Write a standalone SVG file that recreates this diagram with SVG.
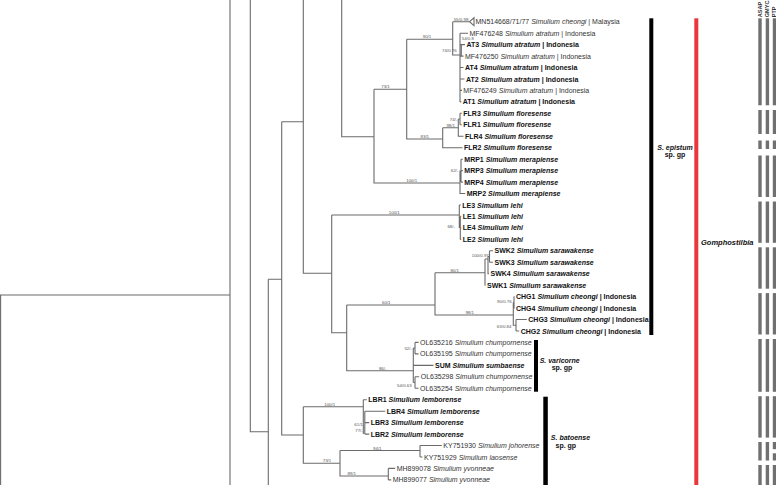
<svg xmlns="http://www.w3.org/2000/svg" width="776" height="485" viewBox="0 0 776 485">
<style>
.br{fill:none;stroke:#6b6b6b;stroke-width:1.1}
.t{font-family:"Liberation Sans",Arial,sans-serif;font-size:7px;fill:#333}
.b{font-weight:bold;fill:#111}
.i{font-style:italic}
.s{font-family:"Liberation Sans",Arial,sans-serif;font-size:4.4px;fill:#555}
.e{text-anchor:end}
.c{text-anchor:middle}
.g{font-family:"Liberation Sans",Arial,sans-serif;font-size:7px;font-weight:bold;fill:#111;text-anchor:middle}
.m{fill:#707070}
.h{font-family:"Liberation Sans",Arial,sans-serif;font-size:5.6px;font-weight:bold;fill:#333}
</style>
<rect width="776" height="485" fill="#fff"/>
<g id="connectors">
<path class="br" d="M230,0V485 M0,295H230 M0.6,295V485 M250.3,0V431.7H268.3 M268.3,279.3V485 M268.3,279.3H281.7 M281.7,121.7V435H303.3 M281.7,121.7H303.3 M303.3,0V273.3H331.7 M341.7,0V136.7H374 M374,89.3V183H460 M374,89.3H406.7 M406.7,39.3V139H442.7 M406.7,39.3H452.7 M452.7,21.7V55H460 M452.7,21.7H469.5 M469.5,21.7L474,17.8V25.6Z M460,33.2V101.9 M460,33.2H468 M460,44.6H465 M461.3,44.6V56.1 M460,56.1H463.5 M460,67.5H463.5 M460,79H464.5 M460,90.4H462 M460,101.9H461.3"/>
<path class="br" d="M442.7,127.7V147.7H462.5 M442.7,127.7H458.3 M458.3,119V136.3H463.5 M458.3,119H460 M460,113.3V124.8 M460,113.3H461.8 M460,124.8H461.8 M460,170.6V193.5H465.2 M461,159.2V182.1 M461,159.2H462.8 M461,170.6H462.8 M461,182.1H462.8"/>
<path class="br" d="M331.7,215V332.7H346.7 M331.7,215H459.3 M459.3,205V227.9 M459.3,205H460.8 M460.3,216.4V239.4 M460.3,216.4H461.2 M460.3,227.9H461.2 M460.3,239.4H461.2 M346.7,305V370.7H413.3 M346.7,305H435 M435,272.7V315H513.3 M435,272.7H485"/>
<path class="br" d="M485,259V285.2H485.5 M485,259H488 M488,256.5V273.7H489 M488,256.5H489.5 M489.5,250.8V262.3 M489.5,250.8H493 M489.5,262.3H493 M513.3,302.4V325.3H516 M513.3,302.4H514 M514,296.6V308.1 M514,296.6H514.5 M514,308.1H514.5 M516,319.5V331 M516,319.5H526.8 M516,331H519.2"/>
<path class="br" d="M413.3,348V382.5 M413.3,348H415 M415,342.4V353.9 M415,342.4H418.5 M415,353.9H418.5 M413.3,365.4H433.5 M413.3,382.5H415 M415,376.8V388.3 M415,376.8H419.2 M415,388.3H418.5"/>
<path class="br" d="M303.3,406.7V463.3H340 M303.3,406.7H363.3 M363.3,399.7V434.1 M364.8,411.2V434.1 M363.3,399.7H366.8 M364.8,411.2H385.2 M364.8,422.6H369.2 M364.8,434.1H369.2 M340,450.5V476H388.3 M340,450.5H420 M420,445.5V457 M420,445.5H441.8 M420,457H422.5 M388.3,468.4V479.9 M388.3,468.4H395.2 M388.3,479.9H391.2"/>
</g>
<g id="support">
<text class="s c" x="461" y="20.6">55/0.98</text>
<text class="s c" x="427" y="38">90/1</text>
<text class="s" x="461.7" y="39.8">54/0.8</text>
<text class="s e" x="456.7" y="52.3">74/0.76</text>
<text class="s c" x="385.5" y="88">73/1</text>
<text class="s e" x="457.3" y="120.8">74/-</text>
<text class="s c" x="450.7" y="126.6">98/1</text>
<text class="s c" x="424.8" y="137.9">83/1</text>
<text class="s e" x="458.3" y="172.2">62/-</text>
<text class="s c" x="411.7" y="181.9">100/1</text>
<text class="s c" x="394.3" y="213.9">100/1</text>
<text class="s e" x="455" y="228.2">68/-</text>
<text class="s e" x="488.8" y="256.5">100/0.97</text>
<text class="s c" x="454.7" y="271.6">80/1</text>
<text class="s c" x="386.3" y="303.9">60/1</text>
<text class="s c" x="469.7" y="313.9">98/1</text>
<text class="s e" x="511.7" y="303.2">90/0.76</text>
<text class="s e" x="511.5" y="328">63/0.84</text>
<text class="s e" x="412" y="349.8">52/-</text>
<text class="s c" x="382.7" y="369.6">86/-</text>
<text class="s e" x="411.7" y="386.5">54/0.63</text>
<text class="s c" x="329.7" y="405.6">100/1</text>
<text class="s e" x="362.8" y="425.5">61/1</text>
<text class="s e" x="362.8" y="432.2">77/-</text>
<text class="s c" x="377.3" y="449.5">94/1</text>
<text class="s c" x="327" y="462.3">73/1</text>
<text class="s c" x="351.7" y="475">89/1</text>
</g>
<g id="tip-MN514668"><text class="t" x="475.5" y="24.2">MN514668/71/77 <tspan class="i">Simulium cheongi</tspan> | Malaysia</text></g>
<g id="tip-MF476248"><text class="t" x="469.5" y="35.7">MF476248 <tspan class="i">Simulium atratum</tspan> | Indonesia</text></g>
<g id="tip-AT3"><text class="t b" x="466.5" y="47.1">AT3 <tspan class="i">Simulium atratum</tspan> | Indonesia</text></g>
<g id="tip-MF476250"><text class="t" x="465" y="58.6">MF476250 <tspan class="i">Simulium atratum</tspan> | Indonesia</text></g>
<g id="tip-AT4"><text class="t b" x="465" y="70">AT4 <tspan class="i">Simulium atratum</tspan> | Indonesia</text></g>
<g id="tip-AT2"><text class="t b" x="466" y="81.5">AT2 <tspan class="i">Simulium atratum</tspan> | Indonesia</text></g>
<g id="tip-MF476249"><text class="t" x="463.3" y="92.9">MF476249 <tspan class="i">Simulium atratum</tspan> | Indonesia</text></g>
<g id="tip-AT1"><text class="t b" x="462.7" y="104.4">AT1 <tspan class="i">Simulium atratum</tspan> | Indonesia</text></g>
<g id="tip-FLR3"><text class="t b" x="463.3" y="115.8">FLR3 <tspan class="i">Simulium floresense</tspan></text></g>
<g id="tip-FLR1"><text class="t b" x="463.3" y="127.3">FLR1 <tspan class="i">Simulium floresense</tspan></text></g>
<g id="tip-FLR4"><text class="t b" x="465" y="138.8">FLR4 <tspan class="i">Simulium floresense</tspan></text></g>
<g id="tip-FLR2"><text class="t b" x="464" y="150.2">FLR2 <tspan class="i">Simulium floresense</tspan></text></g>
<g id="tip-MRP1"><text class="t b" x="464.3" y="161.7">MRP1 <tspan class="i">Simulium merapiense</tspan></text></g>
<g id="tip-MRP3"><text class="t b" x="464.3" y="173.1">MRP3 <tspan class="i">Simulium merapiense</tspan></text></g>
<g id="tip-MRP4"><text class="t b" x="464.3" y="184.6">MRP4 <tspan class="i">Simulium merapiense</tspan></text></g>
<g id="tip-MRP2"><text class="t b" x="466.7" y="196">MRP2 <tspan class="i">Simulium merapiense</tspan></text></g>
<g id="tip-LE3"><text class="t b" x="462.3" y="207.5">LE3 <tspan class="i">Simulium lehi</tspan></text></g>
<g id="tip-LE1"><text class="t b" x="462.7" y="218.9">LE1 <tspan class="i">Simulium lehi</tspan></text></g>
<g id="tip-LE4"><text class="t b" x="462.7" y="230.4">LE4 <tspan class="i">Simulium lehi</tspan></text></g>
<g id="tip-LE2"><text class="t b" x="462.7" y="241.9">LE2 <tspan class="i">Simulium lehi</tspan></text></g>
<g id="tip-SWK2"><text class="t b" x="494.5" y="253.3">SWK2 <tspan class="i">Simulium sarawakense</tspan></text></g>
<g id="tip-SWK3"><text class="t b" x="494.5" y="264.8">SWK3 <tspan class="i">Simulium sarawakense</tspan></text></g>
<g id="tip-SWK4"><text class="t b" x="490.5" y="276.2">SWK4 <tspan class="i">Simulium sarawakense</tspan></text></g>
<g id="tip-SWK1"><text class="t b" x="487" y="287.7">SWK1 <tspan class="i">Simulium sarawakense</tspan></text></g>
<g id="tip-CHG1"><text class="t b" x="516" y="299.1">CHG1 <tspan class="i">Simulium cheongi</tspan> | Indonesia</text></g>
<g id="tip-CHG4"><text class="t b" x="516" y="310.6">CHG4 <tspan class="i">Simulium cheongi</tspan> | Indonesia</text></g>
<g id="tip-CHG3"><text class="t b" x="528.3" y="322">CHG3 <tspan class="i">Simulium cheongi</tspan> | Indonesia</text></g>
<g id="tip-CHG2"><text class="t b" x="520.7" y="333.5">CHG2 <tspan class="i">Simulium cheongi</tspan> | Indonesia</text></g>
<g id="tip-OL635216"><text class="t" x="420" y="344.9">OL635216 <tspan class="i">Simulium chumpornense</tspan></text></g>
<g id="tip-OL635195"><text class="t" x="420" y="356.4">OL635195 <tspan class="i">Simulium chumpornense</tspan></text></g>
<g id="tip-SUM"><text class="t b" x="435" y="367.9">SUM <tspan class="i">Simulium sumbaense</tspan></text></g>
<g id="tip-OL635298"><text class="t" x="420.7" y="379.3">OL635298 <tspan class="i">Simulium chumpornense</tspan></text></g>
<g id="tip-OL635254"><text class="t" x="420" y="390.8">OL635254 <tspan class="i">Simulium chumpornense</tspan></text></g>
<g id="tip-LBR1"><text class="t b" x="368.3" y="402.2">LBR1 <tspan class="i">Simulium lemborense</tspan></text></g>
<g id="tip-LBR4"><text class="t b" x="386.7" y="413.7">LBR4 <tspan class="i">Simulium lemborense</tspan></text></g>
<g id="tip-LBR3"><text class="t b" x="370.7" y="425.1">LBR3 <tspan class="i">Simulium lemborense</tspan></text></g>
<g id="tip-LBR2"><text class="t b" x="370.7" y="436.6">LBR2 <tspan class="i">Simulium lemborense</tspan></text></g>
<g id="tip-KY751930"><text class="t" x="443.3" y="448">KY751930 <tspan class="i">Simulium johorense</tspan></text></g>
<g id="tip-KY751929"><text class="t" x="424" y="459.5">KY751929 <tspan class="i">Simulium laosense</tspan></text></g>
<g id="tip-MH899078"><text class="t" x="396.7" y="471">MH899078 <tspan class="i">Simulium yvonneae</tspan></text></g>
<g id="tip-MH899077"><text class="t" x="392.7" y="482.4">MH899077 <tspan class="i">Simulium yvonneae</tspan></text></g>
<g id="grp-epistum">
<rect x="649.3" y="18.3" width="4" height="316.7" fill="#000"/>
<text class="g" x="675" y="150"><tspan class="i">S. epistum</tspan></text>
<text class="g" x="675" y="156.5">sp. gp</text>
</g>
<g id="grp-varicorne">
<rect x="534" y="340" width="4" height="51.7" fill="#000"/>
<text class="g" x="559.7" y="363"><tspan class="i">S. varicorne</tspan></text>
<text class="g" x="562" y="370">sp. gp</text>
</g>
<g id="grp-batoense">
<rect x="543.3" y="396.7" width="4.5" height="88.3" fill="#000"/>
<text class="g" x="570.5" y="440"><tspan class="i">S. batoense</tspan></text>
<text class="g" x="565.8" y="447.5">sp. gp</text>
</g>
<g id="grp-gomphostilbia">
<rect x="694.3" y="18.3" width="4" height="466.7" fill="#e8383d"/>
<text class="g i" x="701" y="245" style="text-anchor:start;font-size:7.5px">Gomphostilbia</text>
</g>
<g id="delim-headers">
<text class="h" transform="translate(762,17.3) rotate(-90)">ASAP</text>
<text class="h" transform="translate(769.3,17.3) rotate(-90)">GMYC</text>
<text class="h" transform="translate(776.3,17.3) rotate(-90)">PTP</text>
</g>
<g id="delim-ASAP" class="m">
<rect x="758.3" y="18.3" width="3.4" height="87"/>
<rect x="758.3" y="110" width="3.4" height="24"/>
<rect x="758.3" y="140.5" width="3.4" height="8.5"/>
<rect x="758.3" y="155.5" width="3.4" height="41.5"/>
<rect x="758.3" y="201.5" width="3.4" height="41.3"/>
<rect x="758.3" y="247.3" width="3.4" height="41.4"/>
<rect x="758.3" y="293.1" width="3.4" height="41.4"/>
<rect x="758.3" y="339" width="3.4" height="52.8"/>
<rect x="758.3" y="396.2" width="3.4" height="41.4"/>
<rect x="758.3" y="442" width="3.4" height="18.5"/>
<rect x="758.3" y="465" width="3.4" height="20"/>
</g>
<g id="delim-GMYC" class="m">
<rect x="765.7" y="18.3" width="3.4" height="87"/>
<rect x="765.7" y="110" width="3.4" height="24"/>
<rect x="765.7" y="140.5" width="3.4" height="8.5"/>
<rect x="765.7" y="155.5" width="3.4" height="41.5"/>
<rect x="765.7" y="201.5" width="3.4" height="41.3"/>
<rect x="765.7" y="247.3" width="3.4" height="41.4"/>
<rect x="765.7" y="293.1" width="3.4" height="41.4"/>
<rect x="765.7" y="339" width="3.4" height="52.8"/>
<rect x="765.7" y="396.2" width="3.4" height="41.4"/>
<rect x="765.7" y="442" width="3.4" height="18.5"/>
<rect x="765.7" y="465" width="3.4" height="20"/>
</g>
<g id="delim-PTP" class="m">
<rect x="772.8" y="18.3" width="3.2" height="87"/>
<rect x="772.8" y="110" width="3.2" height="24"/>
<rect x="772.8" y="140.5" width="3.2" height="8.5"/>
<rect x="772.8" y="155.5" width="3.2" height="41.5"/>
<rect x="772.8" y="201.5" width="3.2" height="41.3"/>
<rect x="772.8" y="247.3" width="3.2" height="41.4"/>
<rect x="772.8" y="293.1" width="3.2" height="41.4"/>
<rect x="772.8" y="339" width="3.2" height="52.8"/>
<rect x="772.8" y="396.2" width="3.2" height="41.4"/>
<rect x="772.8" y="442" width="3.2" height="7.2"/>
<rect x="772.8" y="453.3" width="3.2" height="7.2"/>
<rect x="772.8" y="465" width="3.2" height="20"/>
</g>
</svg>
